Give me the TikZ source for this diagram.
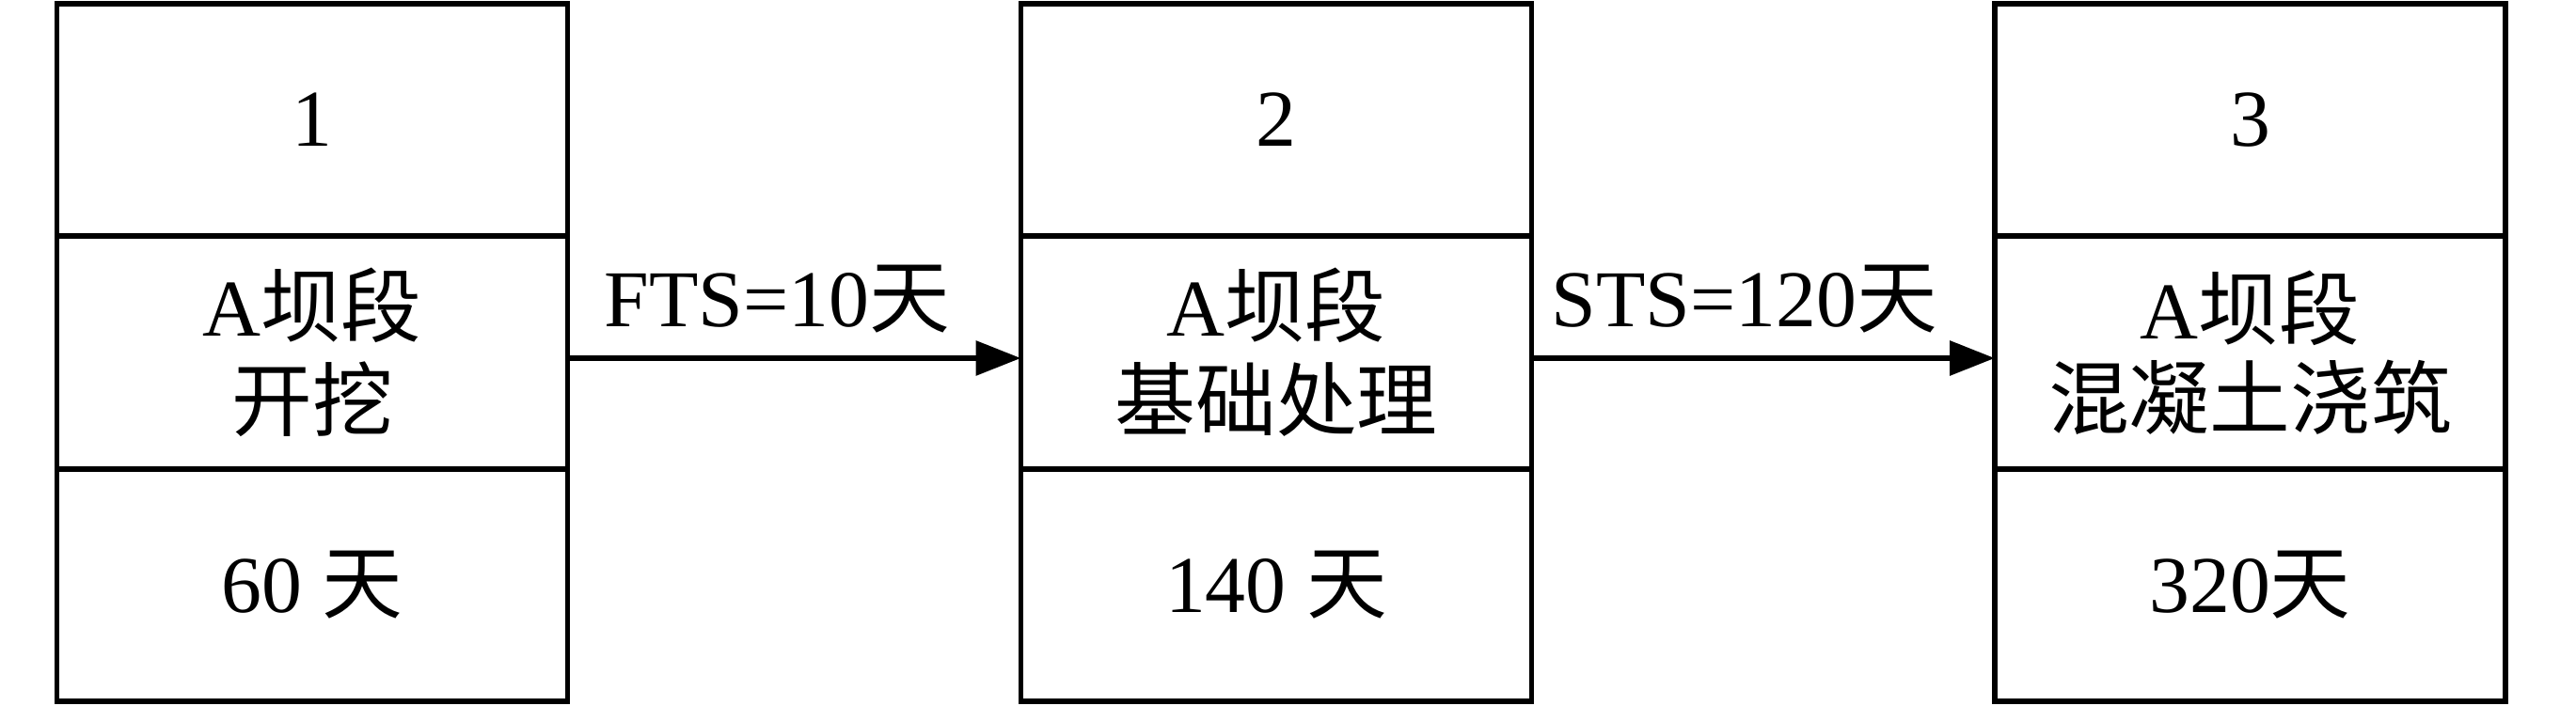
\documentclass[tikz,border=0pt]{standalone}
\usepackage{fontspec}
\setmainfont{Liberation Serif}
\newfontfamily\cjk{Noto Sans CJK SC}
\usetikzlibrary{positioning}
\usetikzlibrary{arrows.meta}

\begin{document}
\begin{tikzpicture}[
		cell/.style={draw=black,line width=1.6pt,minimum width=5.43cm,minimum height=2.475cm,inner sep=0pt,align=center,
			font=\fontsize{24.4}{28.5}\selectfont},
		link/.style={line width=1.8pt,-{Triangle[length=0.48cm,width=0.36cm]},shorten >=-0.8pt},
		lab/.style={font=\fontsize{24.4}{28.5}\selectfont,inner sep=0pt}
	]
	\useasboundingbox (0,0) rectangle (27.39,7.51);
		 	% box 1
		 	\node[cell] (n1a) at (3.32,6.235) {1};
		 	\node[cell] (n1b) at (3.32,3.76) {A{\cjk 坝段}\\{\cjk 开挖}};
		 	\node[cell] (n1c) at (3.32,1.285) {60 {\cjk 天}};
		 	% box 2
		 	\node[cell] (n2a) at (13.57,6.235) {2};
		 	\node[cell] (n2b) at (13.57,3.76) {A{\cjk 坝段}\\{\cjk 基础处理}};
		 	\node[cell] (n2c) at (13.57,1.285) {140 {\cjk 天}};
		 	% box 3
		 	\node[cell] (n3a) at (23.925,6.235) {3};
		 	\node[cell] (n3b) at (23.925,3.76) {A{\cjk 坝段}\\[-0.05cm]{\cjk 混凝土浇筑}};
		 	\node[cell] (n3c) at (23.925,1.285) {320{\cjk 天}};
	        % relations
	        \draw[link] ([yshift=-0.06cm]n1b.east) -- node[lab,above=0.24cm,xshift=-0.18cm] (r1) {FTS=10{\cjk 天}} ([yshift=-0.06cm]n2b.west);
        	\draw[link] ([yshift=-0.06cm]n2b.east) -- node[lab,above=0.24cm,xshift=-0.2cm] (r2) {STS=120{\cjk 天}} ([yshift=-0.06cm]n3b.west);
\end{tikzpicture}
\end{document}
